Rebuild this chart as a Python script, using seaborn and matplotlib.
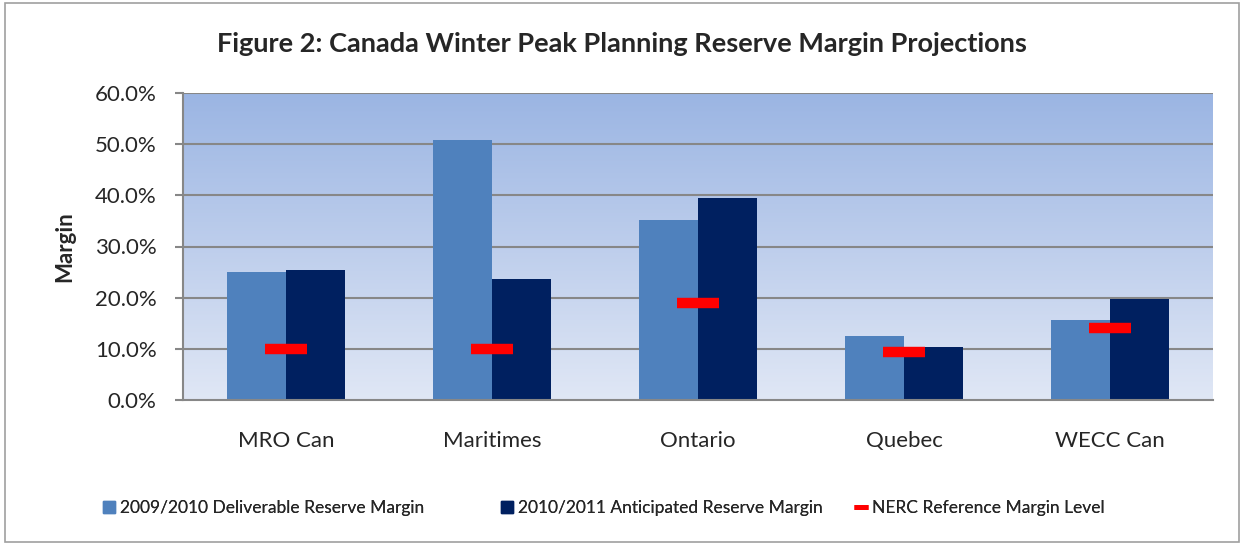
import numpy as np
import pandas as pd
import matplotlib
matplotlib.use("Agg")
import matplotlib.pyplot as plt
import seaborn as sns
from matplotlib.patches import Rectangle
from matplotlib.lines import Line2D
from matplotlib.colors import LinearSegmentedColormap

regions = ["MRO Can", "Maritimes", "Ontario", "Quebec", "WECC Can"]
margin_2009 = [25.0, 50.8, 35.2, 12.6, 15.7]
margin_2010 = [25.5, 23.6, 39.4, 10.4, 19.7]
nerc_reference = [10.0, 10.0, 18.9, 9.3, 14.1]
series_names = ["2009/2010 Deliverable Reserve Margin", "2010/2011 Anticipated Reserve Margin"]
reference_name = "NERC Reference Margin Level"
y_ticks = [0, 10, 20, 30, 40, 50, 60]

light_blue = "#4F81BD"
dark_blue = "#002060"
grid_gray = "#878787"

sns.set_theme(style="white")
plt.rcParams["font.family"] = ["Lato", "DejaVu Sans"]

df = pd.DataFrame({
    "Region": regions * 2,
    "Margin": margin_2009 + margin_2010,
    "Series": [series_names[0]] * len(regions) + [series_names[1]] * len(regions),
})

fig = plt.figure(figsize=(12.41, 5.43), dpi=100)
ax = fig.add_axes([183 / 1241, 143 / 543, 1030 / 1241, 307 / 543])

# gradient background like the Excel plot area
cmap = LinearSegmentedColormap.from_list("bg", ["#E0E7F5", "#9BB5E3"])
grad = np.linspace(0, 1, 256).reshape(-1, 1)
ax.imshow(grad, aspect="auto", cmap=cmap, origin="lower",
          extent=[-0.5, 4.5, 0, 60], zorder=0)

for t in y_ticks[1:]:
    ax.axhline(t, color=grid_gray, lw=1.5, zorder=1)

sns.barplot(data=df, x="Region", y="Margin", hue="Series", ax=ax,
            palette=[light_blue, dark_blue], width=0.57, saturation=1,
            legend=False, zorder=2, linewidth=0)

ax.plot(range(len(regions)), nerc_reference, linestyle="none", marker="_",
        markersize=30, markeredgewidth=7.5, color="#FF0000", zorder=3)

ax.set_xlim(-0.5, 4.5)
ax.set_ylim(0, 60)
ax.set_yticks(y_ticks)
ax.set_yticklabels([f"{t:.1f}%" for t in y_ticks], fontsize=16)
ax.set_xticks(range(len(regions)))
ax.set_xticklabels(regions, fontsize=16)
ax.set_xticks(np.arange(-0.5, 5, 1), minor=True)
ax.tick_params(axis="x", which="major", length=0, pad=22)
ax.tick_params(axis="x", which="minor", length=7, width=1.5, color=grid_gray, direction="out")
ax.tick_params(axis="y", length=6, width=1.5, color=grid_gray, direction="out", left=True, pad=13)
ax.set_xlabel("")
ax.set_ylabel("Margin", fontsize=16, fontweight="bold", labelpad=14)

for side in ["top", "right"]:
    ax.spines[side].set_visible(False)
for side in ["left", "bottom"]:
    ax.spines[side].set_color(grid_gray)
    ax.spines[side].set_linewidth(1.5)

fig.suptitle("Figure 2: Canada Winter Peak Planning Reserve Margin Projections",
             x=622 / 1241, y=1 - 44 / 543, fontsize=19.5, fontweight="bold", va="center")

# Excel spaces the legend entries unevenly, so place each one on its own
handles = [
    Line2D([], [], linestyle="none", marker="s", markersize=8, color=light_blue),
    Line2D([], [], linestyle="none", marker="s", markersize=8, color=dark_blue),
    Line2D([], [], linestyle="none", marker="_", markersize=10, markeredgewidth=3.5, color="#FF0000"),
]
labels = series_names + [reference_name]
legend_x = [104, 502, 856]
for handle, label, lx in zip(handles, labels, legend_x):
    leg = fig.legend([handle], [label], loc="center left",
                     bbox_to_anchor=(lx / 1241, 1 - 508 / 543), frameon=False,
                     fontsize=12.5, handlelength=0.6, handletextpad=0.3,
                     borderaxespad=0, borderpad=0)
    fig.add_artist(leg)

fig.patches.append(Rectangle((5 / 1241, 0.002), 1 - 7 / 1241, 1 - 3 / 543 - 0.002,
                             transform=fig.transFigure, fill=False,
                             edgecolor="#A0A0A0", lw=1.2))

fig.savefig("out.png", dpi=100)
